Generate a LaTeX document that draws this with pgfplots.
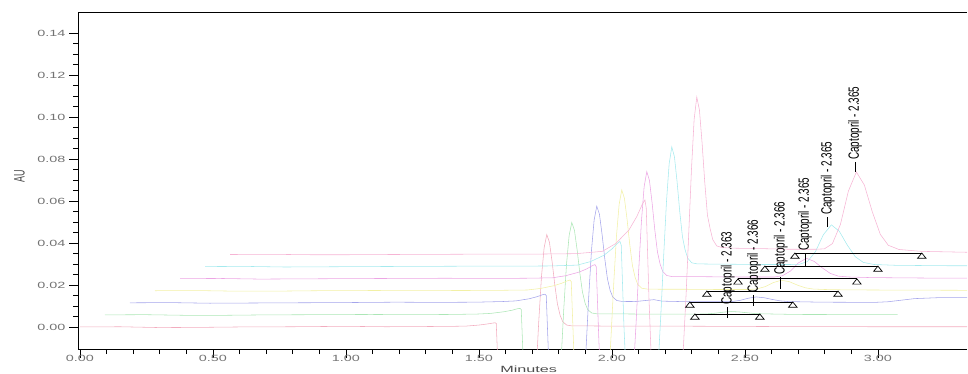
\documentclass[border=0pt]{standalone}
\usepackage{fontspec}
\setmainfont{Liberation Sans}
\usepackage{graphicx}
\usepackage{pgfplots}
\usepackage{pgfplotstable}
\pgfplotsset{compat=1.18}

\definecolor{c0}{RGB}{242,172,190}
\definecolor{c1}{RGB}{172,230,182}
\definecolor{c2}{RGB}{165,165,235}
\definecolor{c3}{RGB}{242,240,165}
\definecolor{c4}{RGB}{236,165,228}
\definecolor{c5}{RGB}{165,234,238}
\definecolor{c6}{RGB}{246,180,212}

% own retention time t (min) and signal v (AU) above each trace's own baseline
\pgfplotstableread{
t v
0 0
0.15 0.0001
0.3 -0.0003
0.45 -0.0002
0.6 0
0.8 0.0001
1.0 0.0003
1.15 0.0001
1.3 0.0002
1.4 0.0003
1.45 0.0004
1.5 0.0009
1.53 0.0014
1.55 0.0018
1.56 0.002
1.565 0.0017
1.575 -0.03
1.59 -0.07
1.61 -0.09
1.67 -0.09
1.69 -0.07
1.705 -0.0441
1.715 -0.0213
1.725 0.003
1.735 0.0238
1.745 0.0377
1.755 0.044
1.765 0.0403
1.775 0.0311
1.785 0.0202
1.795 0.011
1.805 0.0056
1.815 0.0025
1.83 0.0009
1.85 0.0005
1.9 0.0005
2.0 0.0004
2.2 0.0004
2.6 0.0002
3.0 0.0001
3.4 0.0001
}\trA

\pgfplotstableread{
t v
0 0
0.15 0.0001
0.3 -0.0002
0.45 -0.0002
0.6 0
0.8 0.0001
1.0 0.0002
1.15 0.0001
1.3 0.0002
1.4 0.0004
1.45 0.0007
1.5 0.0015
1.53 0.0022
1.55 0.0029
1.56 0.0031
1.565 0.0026
1.575 -0.03
1.59 -0.07
1.61 -0.09
1.67 -0.09
1.69 -0.07
1.705 -0.0441
1.715 -0.0213
1.725 0.003
1.735 0.0238
1.745 0.0377
1.755 0.044
1.765 0.0403
1.775 0.0311
1.785 0.0202
1.795 0.011
1.805 0.0056
1.815 0.0025
1.83 0.0009
1.85 0.0005
1.9 0.0005
2.0 0.0004
2.2 0.0004
2.235 0.0004
2.265 0.0005
2.295 0.0008
2.325 0.0013
2.355 0.0016
2.385 0.0014
2.415 0.001
2.445 0.0006
2.475 0.0005
2.515 0.0004
2.6 0.0002
2.98 0.0001
}\trB

\pgfplotstableread{
t v
0 0
0.15 0.0001
0.3 -0.0002
0.45 -0.0001
0.6 0
0.8 0.0001
1.0 0.0003
1.15 0.0002
1.3 0.0003
1.4 0.0006
1.45 0.0009
1.5 0.0019
1.53 0.0029
1.55 0.0038
1.56 0.0041
1.565 0.0035
1.575 -0.03
1.59 -0.07
1.61 -0.09
1.67 -0.09
1.69 -0.07
1.705 -0.044
1.715 -0.0211
1.725 0.0035
1.735 0.0248
1.745 0.0394
1.755 0.046
1.765 0.0422
1.775 0.0325
1.785 0.0211
1.795 0.0115
1.805 0.006
1.815 0.0028
1.83 0.0011
1.85 0.00065
1.9 0.0006
1.97 0.0015
2.0 0.0008
2.1 0.0005
2.2 0.0005
2.235 0.0005
2.265 0.0006
2.295 0.0012
2.325 0.0022
2.355 0.0028
2.385 0.0024
2.415 0.0016
2.445 0.0009
2.475 0.0006
2.515 0.0005
2.6 0.0003
2.8 0.0002
2.85 0.0005
2.95 0.002
3.05 0.0025
3.16 0.0025
}\trC

\pgfplotstableread{
t v
0 0
0.15 0.0001
0.3 -0.0002
0.45 -0.0002
0.6 0
0.8 0.0001
1.0 0.0002
1.15 0.0001
1.3 0.0002
1.4 0.00035
1.45 0.0011
1.5 0.0024
1.53 0.0036
1.55 0.0047
1.56 0.0051
1.565 0.0044
1.575 -0.03
1.59 -0.07
1.61 -0.09
1.67 -0.09
1.69 -0.07
1.705 -0.044
1.715 -0.0209
1.725 0.004
1.735 0.0259
1.745 0.0411
1.755 0.048
1.765 0.044
1.775 0.0339
1.785 0.022
1.795 0.012
1.805 0.0064
1.815 0.003
1.83 0.0012
1.85 0.0008
1.9 0.0007
2.0 0.0007
2.1 0.0006
2.2 0.0006
2.235 0.0006
2.265 0.0009
2.295 0.002
2.325 0.0039
2.355 0.005
2.385 0.0043
2.415 0.0027
2.445 0.0014
2.475 0.0008
2.515 0.0006
2.6 0.0004
2.8 0.0003
3.07 0.0002
}\trD

\pgfplotstableread{
t v
0 0
0.15 0.0001
0.3 -0.0002
0.45 -0.0001
0.6 0
0.8 0.0001
1.0 0.0002
1.15 0.0001
1.3 0.0002
1.4 0.0004
1.45 0.0014
1.5 0.0031
1.53 0.0047
1.55 0.0062
1.56 0.0067
1.565 0.0057
1.575 -0.03
1.59 -0.07
1.61 -0.09
1.67 -0.09
1.69 -0.07
1.705 -0.0439
1.715 -0.0207
1.725 0.0048
1.735 0.0275
1.745 0.0437
1.755 0.051
1.765 0.0468
1.775 0.0361
1.785 0.0234
1.795 0.0128
1.805 0.007
1.815 0.0034
1.83 0.0015
1.85 0.001
1.9 0.001
2.0 0.0009
2.1 0.0008
2.2 0.0008
2.235 0.0008
2.265 0.0014
2.295 0.0036
2.325 0.0075
2.355 0.0097
2.385 0.0082
2.415 0.0051
2.445 0.0025
2.475 0.0012
2.515 0.0008
2.6 0.0005
2.8 0.0003
2.98 0.0002
}\trE

\pgfplotstableread{
t v
0 0
0.15 0.0001
0.3 -0.0002
0.45 -0.0001
0.6 0
0.8 0.0001
1.0 0.0002
1.15 0.0002
1.3 0.0003
1.4 0.0007
1.45 0.0024
1.5 0.0054
1.53 0.0084
1.55 0.011
1.56 0.012
1.565 0.0102
1.575 -0.028
1.59 -0.07
1.61 -0.09
1.67 -0.09
1.69 -0.07
1.705 -0.0438
1.715 -0.0202
1.725 0.0063
1.735 0.0308
1.745 0.0488
1.755 0.057
1.765 0.0523
1.775 0.0403
1.785 0.0261
1.795 0.0143
1.805 0.008
1.815 0.004
1.83 0.0018
1.85 0.0013
1.9 0.0012
2.0 0.0011
2.1 0.001
2.2 0.001
2.235 0.0011
2.265 0.0024
2.295 0.0071
2.325 0.0152
2.355 0.0199
2.385 0.0168
2.415 0.0102
2.445 0.0047
2.475 0.002
2.515 0.001
2.6 0.0006
2.8 0.0004
2.88 0.0004
}\trF

\pgfplotstableread{
t v
0 0
0.15 0.0001
0.3 -0.0001
0.45 -0.0001
0.6 0
0.8 0.0001
1.0 0.0002
1.15 0.0002
1.3 0.0004
1.4 0.0015
1.45 0.0052
1.5 0.0117
1.53 0.0182
1.55 0.0239
1.56 0.026
1.565 0.0221
1.575 -0.02
1.59 -0.07
1.61 -0.09
1.67 -0.09
1.69 -0.07
1.705 -0.0434
1.715 -0.0186
1.725 0.0108
1.735 0.0405
1.745 0.0643
1.755 0.075
1.765 0.0688
1.775 0.053
1.785 0.0344
1.795 0.0188
1.805 0.0124
1.815 0.0071
1.83 0.0041
1.85 0.0033
1.9 0.003
2.0 0.0028
2.1 0.0025
2.2 0.0025
2.235 0.0027
2.265 0.0052
2.295 0.0143
2.325 0.0302
2.355 0.0393
2.385 0.0331
2.415 0.0203
2.445 0.0096
2.475 0.0044
2.515 0.0024
2.6 0.0015
2.8 0.001
}\trG

\newcommand{\capl}[1]{\scalebox{0.9}[1.35]{#1}}

\begin{document}
\begin{tikzpicture}
\path[use as bounding box] (0pt,0pt) rectangle (968pt,373pt);
\begin{axis}[
  at={(78pt,24pt)}, anchor=south west,
  scale only axis, width=889pt, height=337pt,
  xmin=-0.0075, xmax=3.335, ymin=-0.0105, ymax=0.15,
  axis x line=box, axis y line=left,
  axis line style={-, black, line width=0.8pt},
  xtick pos=left, ytick pos=left,
  xtick={0,0.5,1,1.5,2,2.5,3},
  ytick={0,0.02,0.04,0.06,0.08,0.1,0.12,0.14},
  minor x tick num=4, minor y tick num=3,
  tick align=outside,
  major tick length=9pt, minor tick length=5pt,
  tick style={black, line width=0.7pt},
  /pgf/number format/assume math mode=true,
  xticklabel={\scalebox{1.6}[1]{\pgfmathprintnumber[fixed,fixed zerofill,precision=2]{\tick}}},
  yticklabel={\scalebox{1.6}[1]{\pgfmathprintnumber[fixed,fixed zerofill,precision=2]{\tick}}},
  ticklabel style={font=\fontsize{9}{10}\selectfont, text=black!55},
  xticklabel style={yshift=6pt},
  xlabel={\scalebox{1.8}[1]{Minutes}},
  ylabel={\scalebox{1}[1.7]{AU}},
  every axis x label/.style={at={(axis description cs:0.507,-0.059)}, anchor=center, font=\fontsize{9}{10}\selectfont, text=black!70},
  every axis y label/.style={at={(axis description cs:-0.066,0.513)}, anchor=center, rotate=90, font=\fontsize{9}{10}\selectfont, text=black!70},
  clip=true,
]
\addplot[c0, line width=0.55pt] table[x expr=\thisrow{t}, y expr=\thisrow{v}] {\trA};
\addplot[c1, line width=0.55pt] table[x expr=\thisrow{t}+0.094, y expr=\thisrow{v}+0.00575] {\trB};
\addplot[c2, line width=0.55pt] table[x expr=\thisrow{t}+0.188, y expr=\thisrow{v}+0.0115] {\trC};
\addplot[c3, line width=0.55pt] table[x expr=\thisrow{t}+0.282, y expr=\thisrow{v}+0.01725] {\trD};
\addplot[c4, line width=0.55pt] table[x expr=\thisrow{t}+0.376, y expr=\thisrow{v}+0.023] {\trE};
\addplot[c5, line width=0.55pt] table[x expr=\thisrow{t}+0.47, y expr=\thisrow{v}+0.02875] {\trF};
\addplot[c6, line width=0.55pt] table[x expr=\thisrow{t}+0.564, y expr=\thisrow{v}+0.0345] {\trG};

% integration baselines with start / end triangles
\addplot[black, line width=0.8pt, mark=triangle, mark size=3.5pt, mark options={solid, line width=0.7pt, xscale=1.4, yshift=-3.5pt}] coordinates {(2.312,0.0062) (2.556,0.0062)};
\addplot[black, line width=0.8pt, mark=triangle, mark size=3.5pt, mark options={solid, line width=0.7pt, xscale=1.4, yshift=-3.5pt}] coordinates {(2.293,0.0119) (2.680,0.0119)};
\addplot[black, line width=0.8pt, mark=triangle, mark size=3.5pt, mark options={solid, line width=0.7pt, xscale=1.4, yshift=-3.5pt}] coordinates {(2.357,0.0171) (2.850,0.0171)};
\addplot[black, line width=0.8pt, mark=triangle, mark size=3.5pt, mark options={solid, line width=0.7pt, xscale=1.4, yshift=-3.5pt}] coordinates {(2.474,0.0229) (2.921,0.0229)};
\addplot[black, line width=0.8pt, mark=triangle, mark size=3.5pt, mark options={solid, line width=0.7pt, xscale=1.4, yshift=-3.5pt}] coordinates {(2.575,0.0290) (3.000,0.0290)};
\addplot[black, line width=0.8pt, mark=triangle, mark size=3.5pt, mark options={solid, line width=0.7pt, xscale=1.4, yshift=-3.5pt}] coordinates {(2.688,0.0352) (3.165,0.0352)};

% peak label ticks
\addplot[black, line width=1pt] coordinates {(2.436,0.0043) (2.436,0.0095)};
\addplot[black, line width=1pt] coordinates {(2.534,0.0100) (2.534,0.0152)};
\addplot[black, line width=1pt] coordinates {(2.635,0.0181) (2.635,0.0238)};
\addplot[black, line width=1pt] coordinates {(2.726,0.0290) (2.726,0.0352)};
\addplot[black, line width=1pt] coordinates {(2.812,0.0476) (2.812,0.0524)};
\addplot[black, line width=1pt] coordinates {(2.914,0.0738) (2.914,0.0786)};

\begin{scope}[every node/.style={rotate=90, anchor=west, inner sep=0pt, font=\fontsize{11}{13}\selectfont}]
\node at (axis cs:2.436,0.0105) {\capl{Captopril - 2.363}};
\node at (axis cs:2.534,0.0162) {\capl{Captopril - 2.366}};
\node at (axis cs:2.635,0.0248) {\capl{Captopril - 2.366}};
\node at (axis cs:2.726,0.0362) {\capl{Captopril - 2.365}};
\node at (axis cs:2.812,0.0533) {\capl{Captopril - 2.365}};
\node at (axis cs:2.914,0.0795) {\capl{Captopril - 2.365}};
\end{scope}
\end{axis}
\end{tikzpicture}
\end{document}
